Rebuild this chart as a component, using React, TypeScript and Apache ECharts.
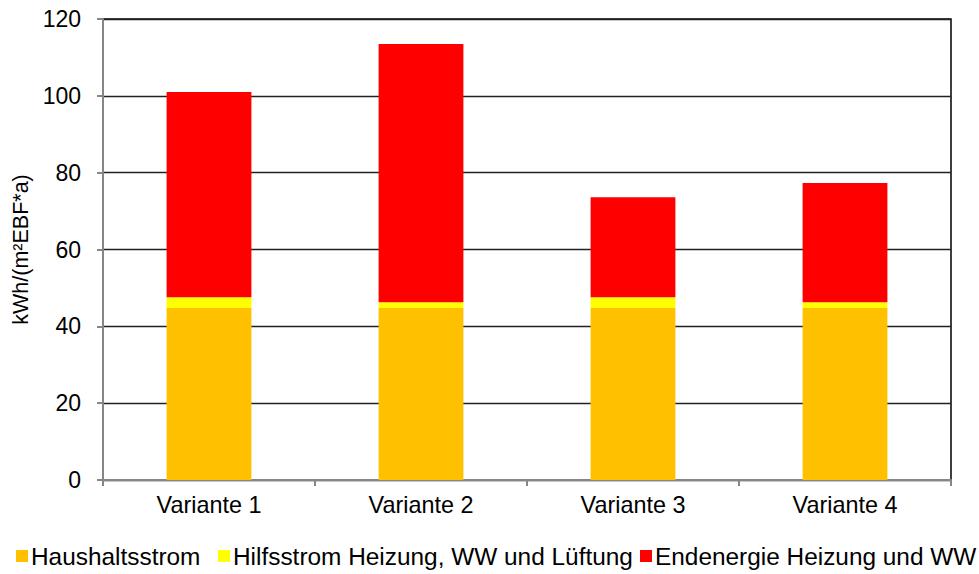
import React, { useEffect, useRef } from "react";
import * as echarts from "echarts";

const categories = ["Variante 1", "Variante 2", "Variante 3", "Variante 4"];
const haushaltsstrom = [44.8, 44.8, 44.8, 44.8];
const hilfsstrom = [2.8, 1.45, 2.8, 1.45];
const endenergie = [53.4, 67.25, 26.0, 31.05];
const seriesNames = [
  "Haushaltsstrom",
  "Hilfsstrom Heizung, WW und Lüftung",
  "Endenergie Heizung und WW",
];
const colors = ["#FFC000", "#FFFF00", "#FF0000"];
const yTicks = { min: 0, max: 120, interval: 20 };
const yTitle = "kWh/(m²EBF*a)";

export default function App() {
  const ref = useRef<HTMLDivElement>(null);
  useEffect(() => {
    if (!ref.current) return;
    const chart = echarts.init(ref.current, null, { renderer: "svg" });
    const font = "Liberation Sans, Arial, sans-serif";
    const legendX = [16, 218, 640];
    const values = [haushaltsstrom, hilfsstrom, endenergie];
    chart.setOption({
      animation: false,
      backgroundColor: "#fff",
      grid: {
        left: 103,
        right: 28,
        top: 19,
        bottom: 94,
        show: true,
        borderColor: "#000",
        borderWidth: 1.5,
      },
      legend: seriesNames.map((n, i) => ({
        data: [n],
        left: legendX[i],
        top: 544,
        icon: "rect",
        itemWidth: 12,
        itemHeight: 12,
        itemGap: 3,
        padding: 0,
        selectedMode: false,
        textStyle: { fontFamily: font, fontSize: 24.4, color: "#000", padding: [0, 0, 0, -2] },
      })),
      xAxis: {
        type: "category",
        data: categories,
        axisLine: { lineStyle: { color: "#868686", width: 2 } },
        axisTick: { show: true, length: 6, lineStyle: { color: "#868686", width: 2 } },
        axisLabel: { fontFamily: font, fontSize: 23.4, color: "#000", margin: 13 },
      },
      yAxis: {
        type: "value",
        min: yTicks.min,
        max: yTicks.max,
        interval: yTicks.interval,
        name: yTitle,
        nameLocation: "middle",
        nameGap: 70,
        nameTextStyle: { fontFamily: font, fontSize: 21.5, color: "#000" },
        axisLine: { show: true, lineStyle: { color: "#868686", width: 2 } },
        axisTick: { show: true, length: 6, lineStyle: { color: "#868686", width: 2 } },
        axisLabel: { fontFamily: font, fontSize: 23, color: "#000", margin: 22 },
        splitLine: { lineStyle: { color: "#222", width: 1.3 } },
      },
      series: seriesNames.map((n, i) => ({
        name: n,
        type: "bar",
        stack: "total",
        data: values[i],
        barWidth: "40%",
        itemStyle: { color: colors[i] },
      })),
    });
    return () => chart.dispose();
  }, []);
  return (
    <div
      ref={ref}
      style={{ position: "fixed", left: 0, top: 0, width: 979, height: 574 }}
    />
  );
}
